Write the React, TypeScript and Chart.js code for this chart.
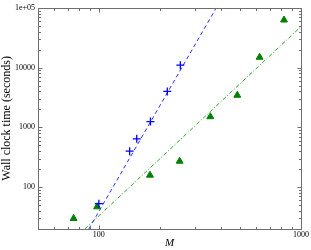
import React, { useEffect, useRef } from 'react';
import { Chart, registerables } from 'chart.js';

Chart.register(...registerables);

// Measured runs (blue crosses)
const crossM = [100, 142, 154, 180, 218, 253];
const crossTime = [53, 400, 645, 1250, 4000, 11000];

// Measured runs (green triangles)
const triM = [75, 98, 179, 251, 356, 484, 624, 824];
const triTime = [30, 47, 159, 272, 1510, 3450, 14900, 62500];

// Fitted lines (end points)
const fitCrossM = [89.2, 381];
const fitCrossTime = [20, 100000];
const fitTriM = [85.3, 1000];
const fitTriTime = [20, 48500];

// Axis ranges and ticks
const xMin = 50;
const xMax = 1000;
const yMin = 20;
const yMax = 100000;
const xTickValues = [100, 1000];
const xTickLabels = ['100', '1000'];
const yTickValues = [100, 1000, 10000, 100000];
const yTickLabels = ['100', '1000', '10000', '1e+05'];
const xMinorTicks = [60, 70, 80, 90, 200, 300, 400, 500, 600, 700, 800, 900];
const yMinorTicks = [
  20, 30, 40, 50, 60, 70, 80, 90,
  200, 300, 400, 500, 600, 700, 800, 900,
  2000, 3000, 4000, 5000, 6000, 7000, 8000, 9000,
  20000, 30000, 40000, 50000, 60000, 70000, 80000, 90000,
];

const FRAME = '#6e6e6e';
const SERIF = '"Liberation Serif", "Times New Roman", serif';

const zip = (xs: number[], ys: number[]) => xs.map((x, i) => ({ x, y: ys[i] }));

const frameTicks = {
  id: 'frameTicks',
  afterDraw(chart: any) {
    const { ctx, chartArea: a, scales } = chart;
    const xs = scales.x;
    const ys = scales.y;
    const L = Math.round(a.left) + 0.5;
    const R = Math.round(a.right) + 0.5;
    const T = Math.round(a.top) + 0.5;
    const B = Math.round(a.bottom) + 0.5;
    ctx.save();
    ctx.strokeStyle = FRAME;
    ctx.lineWidth = 1;
    ctx.strokeRect(L, T, R - L, B - T);
    ctx.beginPath();
    const xt = (v: number, len: number) => {
      const p = Math.round(xs.getPixelForValue(v)) + 0.5;
      ctx.moveTo(p, B);
      ctx.lineTo(p, B - len);
      ctx.moveTo(p, T);
      ctx.lineTo(p, T + len);
    };
    const yt = (v: number, len: number) => {
      const p = Math.round(ys.getPixelForValue(v)) + 0.5;
      ctx.moveTo(L, p);
      ctx.lineTo(L + len, p);
      ctx.moveTo(R, p);
      ctx.lineTo(R - len, p);
    };
    xTickValues.forEach((v) => xt(v, 4));
    xMinorTicks.forEach((v) => xt(v, 2.5));
    yTickValues.forEach((v) => yt(v, 4));
    yMinorTicks.forEach((v) => yt(v, 2.5));
    ctx.stroke();
    ctx.restore();
  },
};

export default function App() {
  const ref = useRef<HTMLCanvasElement | null>(null);

  useEffect(() => {
    if (!ref.current) return;
    const chart = new Chart(ref.current, {
      type: 'scatter',
      data: {
        datasets: [
          {
            label: 'crosses',
            data: zip(crossM, crossTime),
            pointStyle: 'cross',
            pointRadius: 4,
            pointBorderWidth: 1.3,
            borderColor: '#0000ff',
            backgroundColor: '#0000ff',
            showLine: false,
          },
          {
            label: 'triangles',
            data: zip(triM, triTime),
            pointStyle: 'triangle',
            pointRadius: 4,
            pointBorderWidth: 1,
            borderColor: '#008000',
            backgroundColor: '#008000',
            showLine: false,
          },
          {
            label: 'fit crosses',
            data: zip(fitCrossM, fitCrossTime),
            showLine: true,
            borderColor: '#2e2eff',
            borderWidth: 1,
            borderDash: [4, 3],
            pointRadius: 0,
          },
          {
            label: 'fit triangles',
            data: zip(fitTriM, fitTriTime),
            showLine: true,
            borderColor: '#2ea82e',
            borderWidth: 1,
            borderDash: [4, 2, 1, 2],
            pointRadius: 0,
          },
        ],
      },
      options: {
        responsive: false,
        animation: false,
        layout: { padding: { top: 5, right: 10, left: 0, bottom: 0 } },
        plugins: {
          legend: { display: false },
          tooltip: { enabled: false },
        },
        scales: {
          x: {
            type: 'logarithmic',
            min: xMin,
            max: xMax,
            grid: { display: false, drawTicks: false },
            border: { display: false },
            afterBuildTicks: (s: any) => {
              s.ticks = xTickValues.map((v) => ({ value: v }));
            },
            afterFit: (s: any) => {
              s.height = 21;
            },
            ticks: {
              autoSkip: false,
              maxRotation: 0,
              padding: 1,
              color: '#000',
              font: { family: SERIF, size: 8 },
              callback: (v: any) => {
                const i = xTickValues.indexOf(Number(v));
                return i >= 0 ? xTickLabels[i] : '';
              },
            },
            title: {
              display: true,
              text: 'M',
              color: '#000',
              padding: 0,
              font: { family: SERIF, size: 11, style: 'italic' },
            },
          },
          y: {
            type: 'logarithmic',
            min: yMin,
            max: yMax,
            grid: { display: false, drawTicks: false },
            border: { display: false },
            afterBuildTicks: (s: any) => {
              s.ticks = yTickValues.map((v) => ({ value: v }));
            },
            afterFit: (s: any) => {
              s.width = 38;
            },
            ticks: {
              autoSkip: false,
              padding: 3,
              color: '#000',
              font: { family: SERIF, size: 8 },
              callback: (v: any) => {
                const i = yTickValues.indexOf(Number(v));
                return i >= 0 ? yTickLabels[i] : '';
              },
            },
            title: {
              display: true,
              text: 'Wall clock time (seconds)',
              color: '#000',
              padding: 0,
              font: { family: SERIF, size: 12, lineHeight: 1.1 },
            },
          },
        },
      },
      plugins: [frameTicks],
    } as any);
    return () => chart.destroy();
  }, []);

  return (
    <div style={{ position: 'absolute', left: 0, top: 0, width: 311, height: 250, background: '#fff' }}>
      <canvas ref={ref} width={311} height={250} style={{ display: 'block' }} />
    </div>
  );
}
